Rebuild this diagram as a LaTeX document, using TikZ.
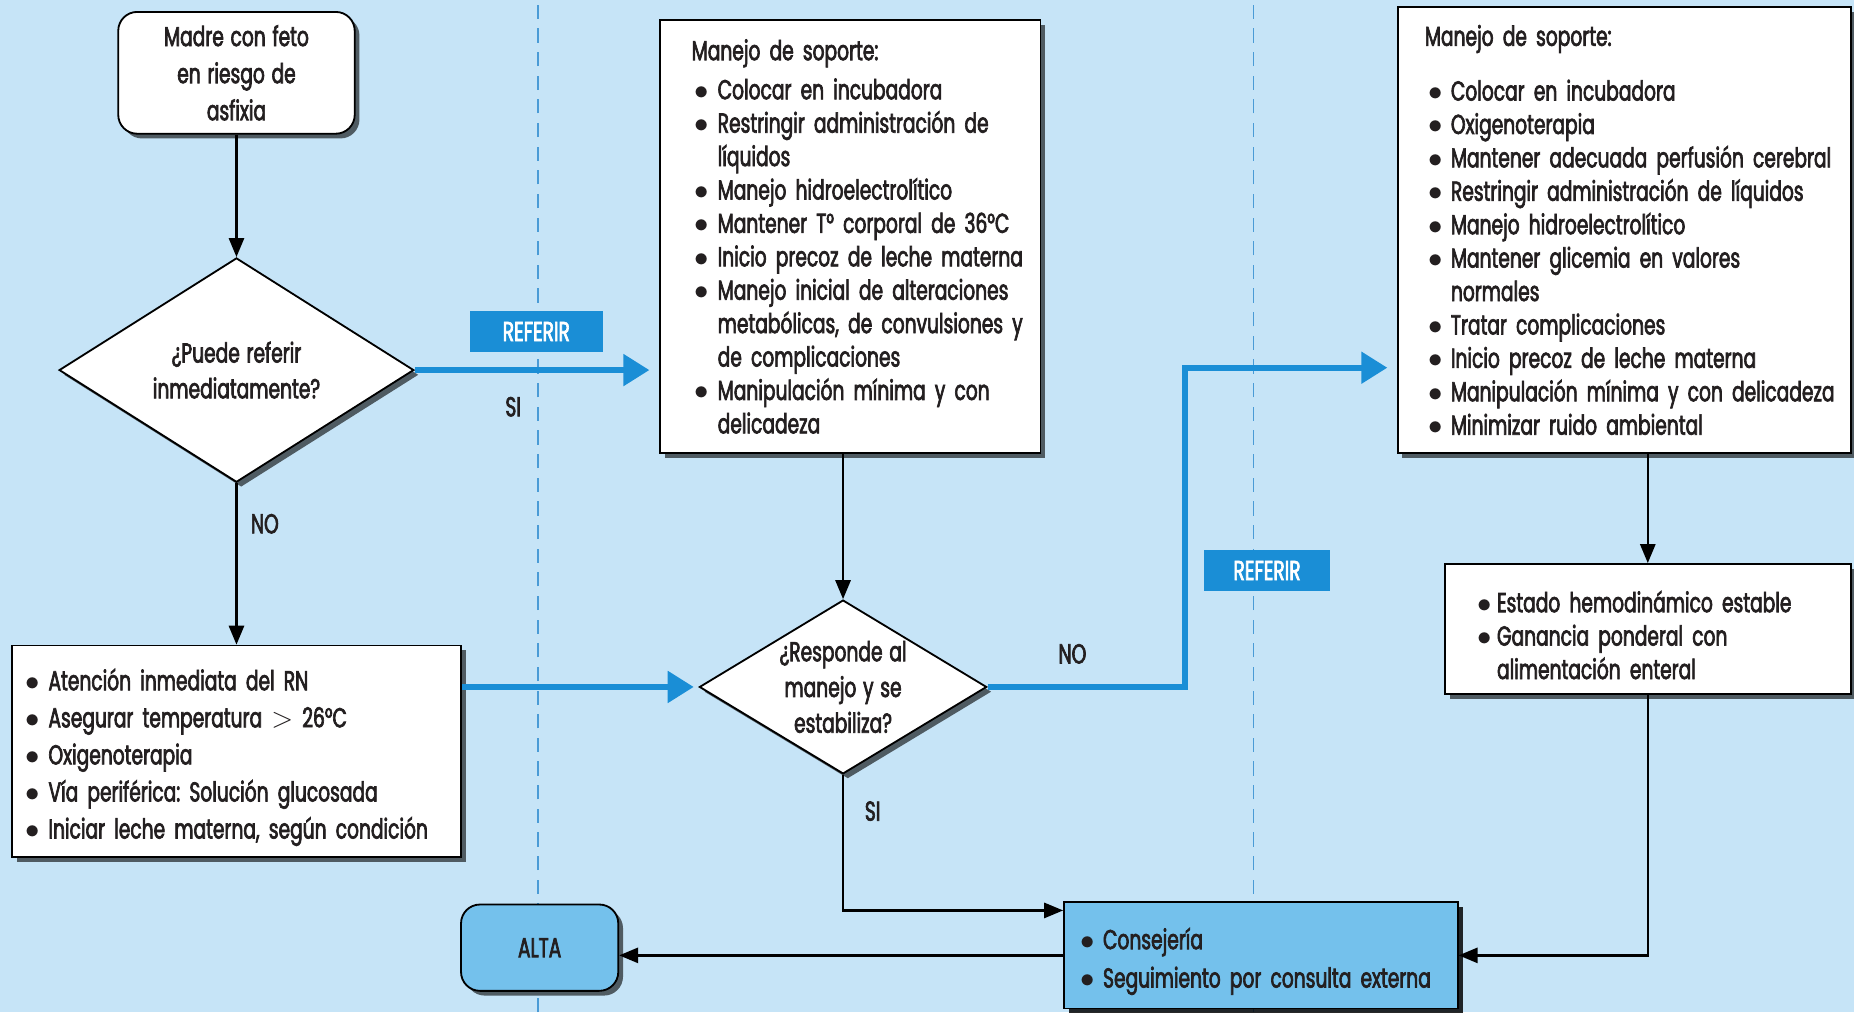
\documentclass[tikz,border=0pt]{standalone}
\usepackage{fontspec}
\setmainfont{Poppins}[FakeStretch=0.68, FakeBold=2.4, WordSpace=1.35]
\usepackage{enumitem}
\setlist[itemize]{nosep, label=$\bullet$, leftmargin=0.55cm, labelsep=0.18cm, rightmargin=-2cm}
\usepackage{xcolor}
\definecolor{flow-sky}{HTML}{C6E4F7}
\definecolor{flow-blue}{HTML}{1A8ED6}
\definecolor{flow-mid}{HTML}{74C1EC}
\definecolor{flow-lane}{HTML}{4A9BD6}
\definecolor{flow-ink}{HTML}{231F20}
\usepackage{tikz}
\usetikzlibrary{shapes.geometric, arrows.meta, shadows}

\tikzset{
    every node/.style={font=\frenchspacing\fontsize{16.5}{20.1}\selectfont, text=flow-ink},
    box/.style={draw=black, line width=1.1pt, fill=white,
        drop shadow={shadow xshift=0.1cm, shadow yshift=-0.1cm, fill=black, opacity=0.6}},
    startbox/.style={box, rounded corners=0.4cm, align=center, inner sep=0pt,
        font=\frenchspacing\fontsize{16.5}{22.3}\selectfont},
    listbox/.style={box, inner ysep=0pt},
    decision/.style={box, diamond, align=center, inner sep=0pt,
        font=\frenchspacing\fontsize{16.5}{21.5}\selectfont},
    endbox/.style={box, fill=flow-mid},
    referir/.style={fill=flow-blue, text=white, inner sep=0pt},
    tag/.style={inner sep=0pt},
    lane/.style={draw=flow-lane, line width=0.7pt, dash pattern=on 0.3cm off 0.2cm},
    flow/.style={draw=black, line width=1.4pt, -{Triangle[length=0.4cm, width=0.32cm]}},
    refer/.style={draw=flow-blue, line width=3.5pt, -{Triangle[length=0.55cm, width=0.65cm]}}
}

\begin{document}
\begin{tikzpicture}

    % Background
    \useasboundingbox (0, 0) rectangle (39.2, 21.4);
    \fill[flow-sky] (0, 0) rectangle (39.2, 21.4);

    % Lanes
    \draw[lane] (11.375, 0) -- (11.375, 21.4);
    \draw[lane] (26.5, 0) -- (26.5, 21.4);

    % First column
    \node[startbox, minimum width=5cm, minimum height=2.575cm] (madre) at (5.0, 19.86)
        {Madre con feto\\en riesgo de\\asfixia};
    \node[decision, minimum width=7.5cm, minimum height=3.75cm] (puede) at (5.0, 13.575)
        {¿Puede referir\\inmediatamente?};
    \node[listbox, minimum width=9.5cm, minimum height=4.475cm, text width=8.9cm, inner xsep=0.3cm] (atencion) at (5.0, 5.5125) {%
        \begin{itemize}[leftmargin=0.475cm, itemsep=2.2pt]
            \item Atención inmediata del RN
            \item Asegurar temperatura $>$ 26°C
            \item Oxigenoterapia
            \item Vía periférica: Solución glucosada
            \item Iniciar leche materna, según condición
        \end{itemize}};

    % Second column
    \node[listbox, minimum width=8.05cm, minimum height=9.15cm, text width=6.7cm, inner xsep=0.675cm] (manejo1) at (17.975, 16.4) {%
        Manejo de soporte:\par\vspace{0.12cm}
        \begin{itemize}
            \item Colocar en incubadora
            \item Restringir administración de\\líquidos
            \item Manejo hidroelectrolítico
            \item Mantener T° corporal de 36°C
            \item Inicio precoz de leche materna
            \item Manejo inicial de alteraciones\\metabólicas, de convulsiones y\\de complicaciones
            \item Manipulación mínima y con\\delicadeza
        \end{itemize}};
    \node[decision, shape aspect=1.65, minimum width=6.075cm, minimum height=3.675cm] (responde) at (17.825, 6.875)
        {¿Responde al\\manejo y se\\estabiliza?};

    % Third column
    \node[listbox, minimum width=9.575cm, minimum height=9.425cm, text width=8.425cm, inner xsep=0.575cm] (manejo2) at (34.34, 16.5375) {%
        \vspace*{0.3cm}Manejo de soporte:\par\vspace{0.15cm}
        \begin{itemize}
            \item Colocar en incubadora
            \item Oxigenoterapia
            \item Mantener adecuada perfusión cerebral
            \item Restringir administración de líquidos
            \item Manejo hidroelectrolítico
            \item Mantener glicemia en valores\\normales
            \item Tratar complicaciones
            \item Inicio precoz de leche materna
            \item Manipulación mínima y con delicadeza
            \item Minimizar ruido ambiental
        \end{itemize}};
    \node[listbox, minimum width=8.575cm, minimum height=2.75cm, text width=7.175cm, inner xsep=0.7cm] (estado) at (34.84, 8.1) {%
        \begin{itemize}[leftmargin=0.4cm, labelsep=0.1cm]
            \item Estado hemodinámico estable
            \item Ganancia ponderal con\\alimentación enteral
        \end{itemize}};

    % Bottom row
    \node[listbox, endbox, minimum width=8.325cm, minimum height=2.25cm, text width=7.575cm, inner xsep=0.375cm] (consejeria) at (26.66, 1.2) {%
        \begin{itemize}[leftmargin=0.45cm, itemsep=3pt]
            \item Consejería
            \item Seguimiento por consulta externa
        \end{itemize}};
    \node[endbox, rounded corners=0.4cm, minimum width=3.325cm, minimum height=1.825cm] (alta) at (11.41, 1.3625) {ALTA};

    % Labels
    \node[referir, minimum width=2.825cm, minimum height=0.875cm] (referir1) at (11.34, 14.39) {REFERIR};
    \node[referir, minimum width=2.675cm, minimum height=0.875cm] (referir2) at (26.79, 9.3375) {REFERIR};
    \node[tag] (si1) at (10.85, 12.8) {SI};
    \node[tag] (no1) at (5.6, 10.325) {NO};
    \node[tag] (no2) at (22.675, 7.575) {NO};
    \node[tag] (si2) at (18.45, 4.25) {SI};

    % Bends
    \coordinate (nobend) at (25.05, 13.625);
    \coordinate (sibend) at (17.825, 2.15);

    % Connectors
    \draw[flow] (madre) -- (puede);
    \draw[flow] (puede) -- (atencion);
    \draw[refer, shorten >=0.2cm] (puede.east) -- (puede.east -| manejo1.west);
    \draw[refer, shorten >=0.1cm] (responde.west -| atencion.east) -- (responde.west);
    \draw[flow] (responde.north |- manejo1.south) -- (responde.north);
    \draw[refer, shorten >=0.2cm] (responde.east) -| (nobend) -- (nobend -| manejo2.west);
    \draw[flow] (responde.south) -- (sibend) -- (sibend -| consejeria.west);
    \draw[flow] (estado.north |- manejo2.south) -- (estado.north);
    \draw[flow] (estado.south) |- (consejeria.east);
    \draw[flow] (consejeria.west) -- (consejeria.west -| alta.east);

\end{tikzpicture}
\end{document}
